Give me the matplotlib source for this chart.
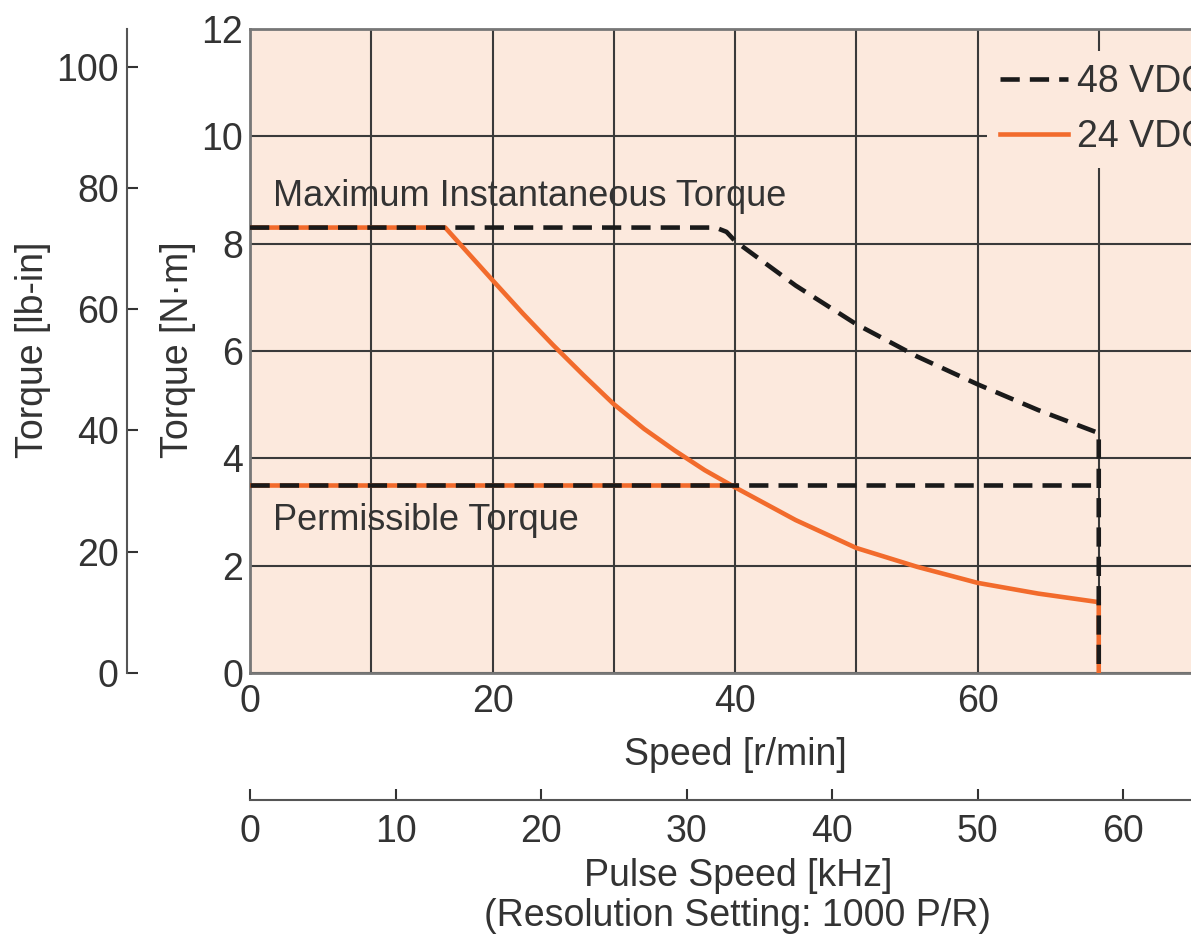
import numpy as np
import matplotlib.pyplot as plt

plt.rcParams['font.family'] = ['Liberation Sans Narrow', 'Liberation Sans', 'DejaVu Sans']

# speed [r/min] vs torque [N·m]
speed_48 = [0, 38.4, 39.3, 40, 45, 50, 55, 60, 65, 70, 70]
torque_48 = [8.3, 8.3, 8.22, 8.05, 7.22, 6.5, 5.9, 5.38, 4.9, 4.47, 0]
speed_24 = [0, 16.1, 20, 22.5, 25, 27.5, 30, 32.5, 35, 37.5, 40, 45, 50, 55, 60, 65, 70, 70]
torque_24 = [8.3, 8.3, 7.32, 6.7, 6.11, 5.55, 5.01, 4.55, 4.15, 3.78, 3.46,
             2.85, 2.33, 1.98, 1.68, 1.48, 1.32, 0]
perm_speed_48 = [0, 70]
perm_speed_24 = [0, 40]
perm_torque = 3.5

nm_to_lbin = 8.851
rpm_per_khz = 1.2

bg = '#FCE9DD'
orange = '#F26B2C'
grid_c = '#3a3a3a'
txt_c = '#333333'
fs = 27
lw = 3.3

fig = plt.figure(figsize=(11.91, 9.40), dpi=100)
ax = fig.add_axes([250/1191, 1 - 673/940, 941/1191, 644/940])
ax.set_facecolor(bg)
ax.set_xlim(0, 941/12.125)
ax.set_ylim(0, 12)

ax.plot(speed_24, torque_24, color=orange, lw=lw, zorder=3, label='24 VDC')
ax.plot(perm_speed_24, [perm_torque]*2, color=orange, lw=lw, zorder=3)
ax.plot(speed_48, torque_48, color='#1a1a1a', lw=lw, ls=(0, (4.2, 2.2)), zorder=4, label='48 VDC')
ax.plot(perm_speed_48, [perm_torque]*2, color='#1a1a1a', lw=lw, ls=(0, (4.2, 2.2)), zorder=4)

ax.set_xticks(np.arange(0, 71, 10))
ax.set_xticklabels(['0', '', '20', '', '40', '', '60', ''])
ax.set_yticks(np.arange(0, 13, 2))
ax.grid(True, color=grid_c, lw=1.5)
ax.set_axisbelow(True)
ax.tick_params(length=0, labelsize=fs, colors=txt_c)
ax.tick_params(axis='y', pad=5)
ax.tick_params(axis='x', pad=8)
ax.spines['right'].set_visible(False)
for s in ['left', 'bottom', 'top']:
    ax.spines[s].set_color('#777777')
    ax.spines[s].set_linewidth(2)

ax.text(1.9, 8.87, 'Maximum Instantaneous Torque', fontsize=26, color=txt_c, va='center')
ax.text(1.9, 2.85, 'Permissible Torque', fontsize=26, color=txt_c, va='center')

# lb-in axis on the left
ax2 = ax.secondary_yaxis((127 - 250)/941, functions=(lambda t: t*nm_to_lbin, lambda t: t/nm_to_lbin))
ax2.set_yticks(np.arange(0, 101, 20))
ax2.tick_params(direction='in', length=8, width=1.5, labelsize=fs, colors=txt_c, pad=6)
ax2.spines['left'].set_color('#555555')
ax2.spines['left'].set_linewidth(1.5)

# pulse speed axis below
ax3 = ax.secondary_xaxis((673 - 800)/644, functions=(lambda s: s/rpm_per_khz, lambda k: k*rpm_per_khz))
ax3.set_xticks(np.arange(0, 61, 10))
ax3.tick_params(direction='in', length=8, width=1.5, labelsize=fs, colors=txt_c, pad=10)
ax3.spines['bottom'].set_color('#555555')
ax3.spines['bottom'].set_linewidth(1.5)

# axis titles
fig.text(33/1191, 1 - 350/940, 'Torque [lb-in]', rotation=90, ha='center', va='center',
         fontsize=fs, color=txt_c)
fig.text(178/1191, 1 - 350/940, 'Torque [N·m]', rotation=90, ha='center', va='center',
         fontsize=fs, color=txt_c)
fig.text(735/1191, 1 - 755/940, 'Speed [r/min]', ha='center', va='center',
         fontsize=fs, color=txt_c)
fig.text(738/1191, 1 - 896/940, 'Pulse Speed [kHz]\n(Resolution Setting: 1000 P/R)',
         ha='center', va='center', fontsize=fs, color=txt_c, linespacing=1.15)

leg = ax.legend(handles=ax.get_lines()[2:3] + ax.get_lines()[0:1], loc='upper left',
                bbox_to_anchor=(987/1191, 1 - 51/940), bbox_transform=fig.transFigure,
                fontsize=fs, frameon=True, facecolor=bg, edgecolor='none', framealpha=1,
                handlelength=1.8, handletextpad=0.25, labelspacing=0.5, borderpad=0.35,
                borderaxespad=0)
for t in leg.get_texts():
    t.set_color(txt_c)
leg.set_zorder(5)

fig.savefig('out.png', dpi=100)
